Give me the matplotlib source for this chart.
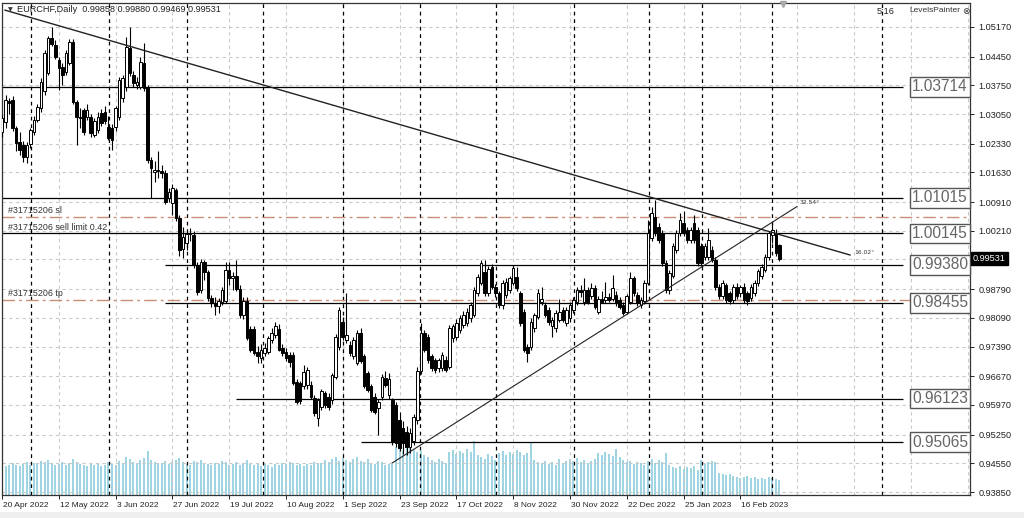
import matplotlib
matplotlib.use("Agg")
import matplotlib.pyplot as plt
import matplotlib.transforms as mtransforms
from matplotlib.patches import Rectangle
import numpy as np

# ---------------- data ----------------
opens = [1.0262,1.0285,1.0338,1.0340,1.0270,1.0238,1.0230,1.0201,1.0232,1.0262,
         1.0291,1.0319,1.0362,1.0404,1.0489,1.0473,1.0437,1.0420,1.0408,1.0429,
         1.0481,1.0335,1.0299,1.0315,1.0299,1.0299,1.0254,1.0266,1.0307,1.0311,
         1.0274,1.0270,1.0274,1.0299,1.0343,1.0372,1.0465,1.0400,1.0376,1.0372,
         1.0429,1.0372,1.0193,1.0165,1.0168,1.0166,1.0161,1.0100,1.0088,1.0120,
         1.0051,0.9976,0.9990,1.0012,1.0010,0.9938,0.9877,0.9945,0.9921,0.9857,
         0.9844,0.9838,0.9848,0.9850,0.9925,0.9905,0.9912,0.9880,0.9815,0.9850,
         0.9783,0.9783,0.9727,0.9711,0.9723,0.9727,0.9755,0.9767,0.9783,0.9735,
         0.9727,0.9719,0.9719,0.9654,0.9650,0.9642,0.9645,0.9646,0.9613,0.9565,
         0.9593,0.9625,0.9617,0.9609,0.9666,0.9739,0.9800,0.9755,0.9743,0.9715,
         0.9700,0.9772,0.9715,0.9674,0.9642,0.9617,0.9589,0.9617,0.9662,0.9620,
         0.9609,0.9598,0.9560,0.9540,0.9530,0.9495,0.9510,0.9560,0.9680,0.9771,
         0.9763,0.9715,0.9707,0.9686,0.9686,0.9707,0.9690,0.9759,0.9763,0.9780,
         0.9792,0.9796,0.9808,0.9816,0.9869,0.9893,0.9921,0.9869,0.9934,0.9885,
         0.9869,0.9840,0.9865,0.9877,0.9893,0.9909,0.9870,0.9824,0.9739,0.9739,
         0.9784,0.9812,0.9848,0.9840,0.9828,0.9788,0.9784,0.9804,0.9828,0.9796,
         0.9808,0.9828,0.9848,0.9877,0.9848,0.9877,0.9861,0.9881,0.9824,0.9856,
         0.9852,0.9860,0.9856,0.9865,0.9852,0.9840,0.9824,0.9848,0.9905,0.9865,
         0.9840,0.9849,0.9895,1.0003,1.0055,1.0031,1.0015,0.9942,0.9877,0.9910,
         0.9974,1.0015,1.0039,1.0023,0.9999,1.0039,1.0023,0.9983,0.9958,0.9958,
         0.9974,0.9950,0.9885,0.9861,0.9889,0.9869,0.9853,0.9885,0.9869,0.9885,
         0.9869,0.9857,0.9869,0.9893,0.9910,0.9926,0.9958,1.0011,1.0015,0.99858]
highs = [1.0302,1.0352,1.0345,1.0350,1.0275,1.0262,1.0240,1.0236,1.0272,1.0300,
         1.0330,1.0392,1.0460,1.0495,1.0518,1.0485,1.0445,1.0430,1.0460,1.0488,
         1.0488,1.0340,1.0320,1.0320,1.0330,1.0305,1.0295,1.0310,1.0318,1.0325,
         1.0300,1.0280,1.0325,1.0395,1.0400,1.0493,1.0518,1.0410,1.0395,1.0445,
         1.0477,1.0375,1.0200,1.0190,1.0214,1.0180,1.0170,1.0125,1.0135,1.0125,
         1.0060,1.0030,1.0020,1.0028,1.0020,0.9945,0.9952,0.9950,0.9925,0.9865,
         0.9860,0.9858,0.9885,0.9945,0.9945,0.9920,0.9950,0.9890,0.9860,0.9860,
         0.9790,0.9790,0.9740,0.9745,0.9748,0.9765,0.9785,0.9800,0.9795,0.9745,
         0.9735,0.9725,0.9725,0.9660,0.9655,0.9694,0.9690,0.9655,0.9620,0.9615,
         0.9635,0.9632,0.9625,0.9675,0.9770,0.9835,0.9810,0.9869,0.9752,0.9762,
         0.9780,0.9785,0.9722,0.9680,0.9648,0.9625,0.9612,0.9672,0.9680,0.9675,
         0.9615,0.9605,0.9580,0.9558,0.9545,0.9540,0.9575,0.9690,0.9796,0.9780,
         0.9770,0.9722,0.9712,0.9712,0.9725,0.9715,0.9792,0.9795,0.9805,0.9815,
         0.9825,0.9832,0.9848,0.9885,0.9915,0.9950,0.9950,0.9935,0.9940,0.9892,
         0.9875,0.9900,0.9905,0.9912,0.9938,0.9934,0.9875,0.9830,0.9745,0.9808,
         0.9822,0.9880,0.9885,0.9848,0.9835,0.9812,0.9828,0.9856,0.9835,0.9835,
         0.9848,0.9860,0.9885,0.9888,0.9905,0.9885,0.9895,0.9888,0.9862,0.9875,
         0.9897,0.9870,0.9913,0.9875,0.9860,0.9848,0.9868,0.9921,0.9912,0.9872,
         0.9860,0.9900,1.0047,1.0080,1.0096,1.0040,1.0022,0.9950,0.9925,0.9990,
         1.0022,1.0064,1.0068,1.0030,1.0030,1.0060,1.0030,0.9990,0.9990,1.0027,
         0.9985,0.9958,0.9892,0.9900,0.9895,0.9875,0.9892,0.9893,0.9890,0.9893,
         0.9875,0.9892,0.9900,0.9928,0.9940,0.9965,1.0020,1.0043,1.0025,0.99880]
lows = [1.0250,1.0270,1.0305,1.0265,1.0214,1.0205,1.0189,1.0185,1.0222,1.0255,
        1.0285,1.0310,1.0352,1.0400,1.0470,1.0440,1.0364,1.0376,1.0400,1.0425,
        1.0330,1.0230,1.0270,1.0255,1.0290,1.0250,1.0250,1.0260,1.0275,1.0280,
        1.0242,1.0218,1.0265,1.0290,1.0335,1.0360,1.0398,1.0372,1.0365,1.0365,
        1.0360,1.0185,1.0100,1.0140,1.0150,1.0150,1.0085,1.0090,1.0060,1.0045,
        0.9960,0.9955,0.9975,0.9995,0.9930,0.9865,0.9870,0.9900,0.9850,0.9835,
        0.9815,0.9820,0.9840,0.9845,0.9890,0.9878,0.9875,0.9808,0.9805,0.9755,
        0.9725,0.9718,0.9698,0.9700,0.9715,0.9720,0.9748,0.9760,0.9728,0.9715,
        0.9705,0.9690,0.9645,0.9600,0.9600,0.9635,0.9635,0.9612,0.9570,0.9545,
        0.9585,0.9590,0.9585,0.9600,0.9660,0.9731,0.9755,0.9748,0.9715,0.9708,
        0.9695,0.9700,0.9638,0.9628,0.9580,0.9575,0.9524,0.9610,0.9640,0.9612,
        0.9500,0.9495,0.9485,0.9478,0.9475,0.9480,0.9500,0.9550,0.9672,0.9725,
        0.9700,0.9680,0.9675,0.9678,0.9680,0.9676,0.9685,0.9750,0.9755,0.9772,
        0.9785,0.9790,0.9800,0.9810,0.9862,0.9888,0.9862,0.9862,0.9880,0.9860,
        0.9832,0.9830,0.9858,0.9870,0.9888,0.9875,0.9790,0.9725,0.9702,0.9730,
        0.9775,0.9805,0.9840,0.9810,0.9792,0.9763,0.9775,0.9798,0.9798,0.9790,
        0.9800,0.9820,0.9840,0.9860,0.9840,0.9842,0.9855,0.9830,0.9818,0.9845,
        0.9845,0.9848,0.9850,0.9838,0.9830,0.9815,0.9818,0.9842,0.9862,0.9838,
        0.9832,0.9842,0.9890,0.9995,1.0008,0.9990,0.9935,0.9870,0.9868,0.9905,
        0.9968,1.0008,1.0008,0.9992,0.9992,0.9992,0.9935,0.9935,0.9950,0.9950,
        0.9945,0.9878,0.9855,0.9855,0.9845,0.9843,0.9845,0.9855,0.9860,0.9845,
        0.9840,0.9850,0.9862,0.9886,0.9903,0.9920,0.9950,0.9990,0.9960,0.99469]
closes = [1.0296,1.0340,1.0332,1.0272,1.0235,1.0218,1.0201,1.0230,1.0266,1.0291,
          1.0323,1.0384,1.0453,1.0489,1.0475,1.0445,1.0416,1.0400,1.0453,1.0481,
          1.0335,1.0299,1.0295,1.0262,1.0315,1.0258,1.0287,1.0299,1.0283,1.0287,
          1.0246,1.0242,1.0319,1.0388,1.0392,1.0469,1.0404,1.0380,1.0384,1.0433,
          1.0368,1.0193,1.0173,1.0168,1.0166,1.0162,1.0092,1.0115,1.0124,1.0051,
          0.9974,1.0005,1.0012,1.0016,0.9938,0.9872,0.9945,0.9920,0.9857,0.9844,
          0.9838,0.9850,0.9877,0.9925,0.9905,0.9912,0.9880,0.9815,0.9850,0.9760,
          0.9731,0.9723,0.9715,0.9731,0.9735,0.9759,0.9772,0.9788,0.9731,0.9723,
          0.9711,0.9702,0.9650,0.9605,0.9606,0.9678,0.9682,0.9617,0.9577,0.9609,
          0.9630,0.9597,0.9593,0.9670,0.9763,0.9828,0.9763,0.9767,0.9723,0.9755,
          0.9772,0.9705,0.9642,0.9633,0.9585,0.9581,0.9605,0.9666,0.9646,0.9660,
          0.9506,0.9505,0.9492,0.9505,0.9495,0.9529,0.9568,0.9680,0.9771,0.9731,
          0.9707,0.9686,0.9682,0.9707,0.9719,0.9682,0.9784,0.9788,0.9796,0.9808,
          0.9816,0.9824,0.9840,0.9877,0.9909,0.9942,0.9869,0.9929,0.9885,0.9869,
          0.9840,0.9893,0.9897,0.9905,0.9930,0.9881,0.9796,0.9731,0.9723,0.9800,
          0.9816,0.9869,0.9856,0.9816,0.9800,0.9804,0.9820,0.9824,0.9804,0.9828,
          0.9840,0.9852,0.9877,0.9873,0.9877,0.9848,0.9881,0.9836,0.9856,0.9848,
          0.9860,0.9852,0.9881,0.9844,0.9836,0.9820,0.9861,0.9905,0.9869,0.9844,
          0.9853,0.9893,1.0015,1.0064,1.0015,0.9999,0.9942,0.9877,0.9918,0.9983,
          1.0015,1.0047,1.0015,0.9999,1.0023,0.9999,0.9942,0.9942,0.9983,0.9999,
          0.9950,0.9885,0.9861,0.9893,0.9853,0.9849,0.9885,0.9861,0.9885,0.9853,
          0.9849,0.9885,0.9893,0.9922,0.9934,0.9958,1.0015,1.0023,0.9966,0.99531]
volumes = [31,29,30,32,30,29,31,33,30,32,31,34,33,35,32,30,31,33,30,32,
           36,33,31,30,29,32,30,31,29,30,33,31,30,34,32,38,36,33,31,35,
           37,44,35,33,31,32,34,31,33,35,37,33,31,30,34,33,35,32,31,30,
           32,31,34,33,30,31,33,30,32,35,31,30,32,29,31,30,28,31,30,32,
           31,33,32,30,31,29,31,30,33,31,32,35,33,36,38,34,37,35,33,36,
           38,34,33,36,32,31,34,33,30,31,33,48,46,44,50,47,45,43,44,40,
           38,35,33,36,34,32,43,45,41,44,42,46,43,54,40,38,36,41,39,35,
           42,44,40,43,41,45,43,40,42,53,35,33,32,34,31,33,30,36,32,34,
           36,34,37,33,35,32,34,36,42,40,43,41,39,46,38,35,33,34,31,33,
           32,30,34,36,32,35,33,42,30,28,27,29,26,28,27,29,25,35,32,33,
           34,33,22,21,20,21,19,18,17,18,19,17,18,16,17,16,18,17,16,15]

date_labels = ["20 Apr 2022", "12 May 2022", "3 Jun 2022", "27 Jun 2022", "19 Jul 2022",
               "10 Aug 2022", "1 Sep 2022", "23 Sep 2022", "17 Oct 2022", "8 Nov 2022",
               "30 Nov 2022", "22 Dec 2022", "25 Jan 2023", "16 Feb 2023"]
date_label_bars = [0, 16, 32, 48, 64, 80, 96, 112, 128, 144, 160, 176, 192, 208]
price_ticks = [1.05170, 1.04450, 1.03750, 1.03050, 1.02330, 1.01630, 1.00910, 1.00210,
               0.98790, 0.98090, 0.97390, 0.96670, 0.95970, 0.95250, 0.94550, 0.93850]
last_price = 0.99531
separator_bars = [8.2, 30.1, 52.1, 73.5, 96.1, 117.7, 139.2, 161.1, 182.3, 197.2, 216.9, 247.9]

levels = [1.03714, 1.01015, 1.00145, 0.99380, 0.98455, 0.96123, 0.95065]
level_start_bars = [0, 0, 0, 46, 46, 66, 101]
level_end_bar = 253.8

order_sl = 1.00555
order_tp = 0.98525
order_limit = 1.00130
order_texts = ["#31715206 sl", "#31715206 sell limit 0.42", "#31715206 tp"]

down_trend = [(0.85, 1.0558), (238.9, 0.99620)]
up_trend = [(110.05, 0.94564), (223.9, 1.00796)]

# ---------------- figure ----------------
W, H = 1024, 518
fig = plt.figure(figsize=(W / 100, H / 100), dpi=100, facecolor="white")
ax_l, ax_r, ax_t, ax_b = 2, 970, 3, 495
ax = fig.add_axes([ax_l / W, (H - ax_b) / H, (ax_r - ax_l) / W, (ax_b - ax_t) / H])
ax2 = ax.twinx()
ax.set_zorder(2)
ax2.set_zorder(1)
ax.patch.set_visible(False)

n = len(closes)
x = np.arange(n)
O = np.array(opens); Hh = np.array(highs); L = np.array(lows); C = np.array(closes)

ax.set_xlim(0, 272.7)
ax.set_ylim(0.93778, 1.05754)

small_font = ["Liberation Sans", "DejaVu Sans"]

# grid
grid_c = "#c9c9c9"
for p in price_ticks + [last_price]:
    ax.axhline(p, color=grid_c, lw=0.8, ls=(0, (3, 3)), zorder=0)
grid_bars = list(range(0, 273, 16))
for b in grid_bars:
    ax.axvline(b, color=grid_c, lw=0.8, ls=(0, (3, 3)), zorder=0)
for b in separator_bars:
    ax.axvline(b, color="black", lw=0.9, ls=(0, (3, 3)), zorder=1)

# volumes
ax2.vlines(x, 0, volumes, color="#83c9da", lw=1.1)
ax2.set_ylim(0, max(volumes) * 9.1)
ax2.axis("off")

# levels
for lv, sb in zip(levels, level_start_bars):
    ax.hlines(lv, sb, level_end_bar, color="black", lw=0.9, zorder=2)

# orders
ord_c = "#c98f76"
for lv in (order_sl, order_tp):
    ax.axhline(lv, color=ord_c, lw=1.0, ls=(0, (9, 3, 2, 3)), zorder=2)
for txt, lv in zip(order_texts, (order_sl, order_limit, order_tp)):
    ax.annotate(txt, (1.7, lv), xytext=(0, 1.2), textcoords="offset points",
                fontsize=6.4, family=small_font, color="#333333", va="bottom", ha="left", zorder=6)

# trendlines
ax.plot(*zip(*down_trend), color="#222222", lw=1.0, zorder=5)
ax.plot(*zip(*up_trend), color="#222222", lw=0.8, zorder=5)
ax.annotate("16.02°", down_trend[1], xytext=(3, 2), textcoords="offset points",
            fontsize=4.3, color="#333333", va="center", ha="left")
ax.annotate("32.54°", up_trend[1], xytext=(2, 3), textcoords="offset points",
            fontsize=4.3, color="#333333", va="center", ha="left")

# candles
up = C >= O
body_lo = np.minimum(O, C)
body_h = np.maximum(np.abs(C - O), 0.00008)
ax.vlines(x, L, Hh, color="black", lw=0.8, zorder=3)
ax.bar(x[up], body_h[up], bottom=body_lo[up], width=0.72, facecolor="white",
       edgecolor="black", lw=0.7, zorder=4)
ax.bar(x[~up], body_h[~up], bottom=body_lo[~up], width=0.72, facecolor="black",
       edgecolor="black", lw=0.7, zorder=4)

# level boxes
box_x = (940 - ax_l) / (ax_r - ax_l)
btr = mtransforms.blended_transform_factory(ax.transAxes, ax.transData)
for lv in levels:
    ax.text(box_x, lv, f"{lv:.5f}", transform=btr, ha="center", va="center",
            fontsize=11.2, family="Liberation Sans", color="#666666",
            bbox=dict(boxstyle="square,pad=0.15", fc="white", ec="#555555", lw=1.0), zorder=7)

# axes styling
for s in ax.spines.values():
    s.set_color("#333333"); s.set_linewidth(0.9)
ax.yaxis.tick_right()
ax.set_yticks(price_ticks)
ax.set_yticklabels([f"{p:.5f}" for p in price_ticks], family=small_font)
ax.tick_params(axis="y", labelsize=6.6, length=3, pad=3, colors="#222222", width=0.7)
ax.set_xticks(date_label_bars)
ax.set_xticklabels(date_labels, family=small_font)
ax.tick_params(axis="x", labelsize=6.0, length=3, pad=2, colors="#222222", width=0.7)
off = mtransforms.ScaledTranslation(1 / 100, 0, fig.dpi_scale_trans)
for lbl in ax.get_xticklabels():
    lbl.set_ha("left")
    lbl.set_transform(lbl.get_transform() + off)

ax.text(1.0 + 3 / (ax_r - ax_l), last_price, f"{last_price:.5f}",
        transform=ax.get_yaxis_transform(), ha="left", va="center", fontsize=6.6,
        family=small_font, color="white",
        bbox=dict(boxstyle="square,pad=0.22", fc="black", ec="black"), zorder=8)

# header texts
ax.text(6 / 968, 1 - 7 / 492, "▼", transform=ax.transAxes, fontsize=4.5,
        color="#333333", va="center", ha="left")
ax.text(15 / 968, 1 - 7 / 492, "EURCHF,Daily  0.99858 0.99880 0.99469 0.99531",
        transform=ax.transAxes, fontsize=6.6, family=small_font, color="#222222",
        va="center", ha="left")
ax.text((886 - ax_l) / 968, 1 - 8 / 492, "5:16", transform=ax.transAxes,
        fontsize=6.6, family=small_font, color="#222222", va="center", ha="center")
ax.text((960 - ax_l) / 968, 1 - 8 / 492, "LevelsPainter", transform=ax.transAxes,
        fontsize=6.0, family=small_font, color="#333333", va="center", ha="right")
ax.text((966 - ax_l) / 968, 1 - 8 / 492, "⊗", transform=ax.transAxes,
        fontsize=6.5, color="#333333", va="center", ha="center")
ax.plot([(783 - ax_l) / 968], [1 - 1 / 492], marker="v", ms=5, color="#a8a8a8",
        transform=ax.transAxes, clip_on=False, zorder=9)

fig.patches.append(Rectangle((0, 0), 1, 6 / H, transform=fig.transFigure,
                             facecolor="#efefef", edgecolor="none"))

fig.savefig("out.png", dpi=100, facecolor="white")
